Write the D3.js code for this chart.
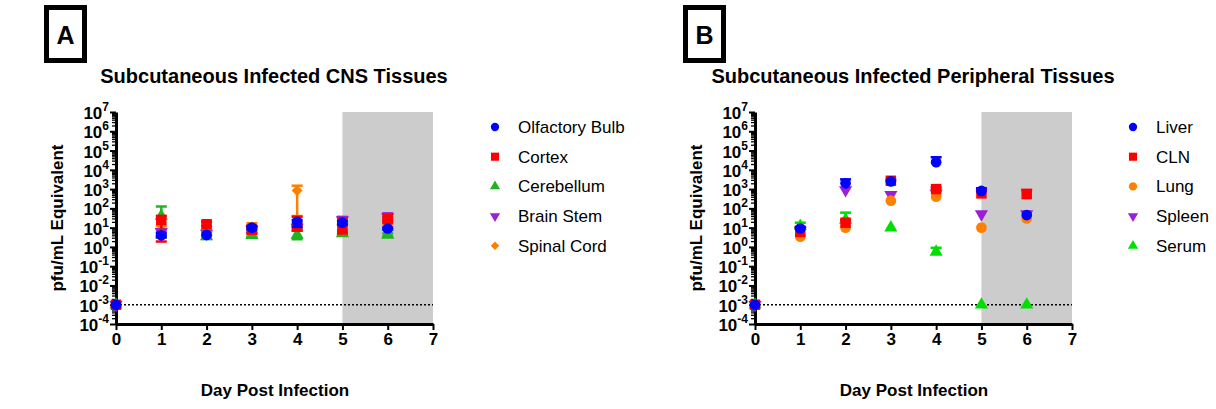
<!DOCTYPE html>
<html>
<head>
<meta charset="utf-8">
<script src="https://cdn.jsdelivr.net/npm/d3@7"></script>
<style>
  body { margin: 0; background: #fff; }
  text { font-family: Arial, "Liberation Sans", sans-serif; }
</style>
</head>
<body>
<script>
// days on the x axis
const days = [0, 1, 2, 3, 4, 5, 6];
const dayTicks = [0, 1, 2, 3, 4, 5, 6, 7];
const decadeTicks = [-4, -3, -2, -1, 0, 1, 2, 3, 4, 5, 6, 7];
const detectionLimit = 0.001;

// Panel A : CNS tissues (mean, upper error, lower error)
const cnsNames = ["Olfactory Bulb", "Cortex", "Cerebellum", "Brain Stem", "Spinal Cord"];
const olfactoryMean = [0.001, 4, 4.2, 10, 20, 18, 9];
const olfactoryHi = [null, 5.5, null, 12, 25, 22, 10];
const olfactoryLo = [null, 3.2, null, 8, 11, 14, 8];
const cortexMean = [0.001, 25, 15, 8, 12, 9, 28];
const cortexHi = [null, 40, 20, 12, 37, 30, 35];
const cortexLo = [null, 1.9, 12, 5, 7, 5, 20];
const cerebellumMean = [0.001, 40, 3.5, 4, 4.2, 5, 4.2];
const cerebellumHi = [null, 125, 6, 5, 10, 7, 5];
const cerebellumLo = [null, 3, 2.6, 3.4, 2.5, 4.5, 3.5];
const brainStemMean = [0.001, 6, 5, 8, 10, 25, 35];
const brainStemHi = [null, 8, 6, 10, 15, 35, 55];
const brainStemLo = [null, 4, 4, 6, 7, 15, 25];
const spinalMean = [0.001, 8, 6, 9, 850, 10, 20];
const spinalHi = [null, 12, 8, 17, 1500, 37, 25];
const spinalLo = [null, 5, 4, 3.2, 40, 4, 15];

// Panel B : peripheral tissues
const periNames = ["Liver", "CLN", "Lung", "Spleen", "Serum"];
const liverMean = [0.001, 9, 2000, 2500, 25000, 800, 45];
const liverHi = [null, 11, 3200, null, 45000, 1100, null];
const liverLo = [null, null, null, null, null, null, null];
const clnMean = [0.001, 6, 18, 2700, 1000, 600, 550];
const clnHi = [null, 10, 25, 3000, 1200, 800, 900];
const clnLo = [null, null, null, null, null, null, null];
const lungMean = [0.001, 3.4, 10, 250, 400, 10, 30];
const lungHi = [null, null, null, null, null, null, null];
const lungLo = [null, null, null, null, null, null, null];
const spleenMean = [0.001, 7, 900, 500, 600, 50, 50];
const spleenHi = [null, null, null, null, null, null, null];
const spleenLo = [null, null, null, null, null, null, null];
const serumMean = [0.001, 12, 25, 10, 0.55, 0.001, 0.001];
const serumHi = [null, 18, 60, null, 0.9, null, null];
const serumLo = [null, null, null, null, null, null, null];

const svg = d3.select("body").append("svg").attr("width", 1216).attr("height", 409);

const symbolOf = {
  circle: d3.symbolCircle, square: d3.symbolSquare, triUp: d3.symbolTriangle,
  triDown: d3.symbolTriangle, diamond: d3.symbolSquare
};
const rotOf = { triDown: " rotate(180)", diamond: " rotate(45)" };

const drawPanel = (cfg) => {
  const g = svg.append("g").attr("transform", `translate(${cfg.dx},0)`);
  const x = d3.scaleLinear().domain([0, 7]).range([116, 433]);
  const y = d3.scaleLog().domain([1e-4, 1e7]).range([324, 112]);

  // panel letter box
  g.append("rect").attr("x", 46.5).attr("y", 7.5).attr("width", 38).attr("height", 53)
    .attr("fill", "none").attr("stroke", "#000").attr("stroke-width", 5);
  g.append("text").attr("x", 65.5).attr("y", 44).attr("text-anchor", "middle")
    .attr("font-size", 25).attr("font-weight", "bold").text(cfg.letter);

  // title
  g.append("text").attr("x", 274).attr("y", 83).attr("text-anchor", "middle")
    .attr("font-size", 20).attr("font-weight", "bold").text(cfg.title);

  // shaded window day 5 - 7
  g.append("rect").attr("x", x(5)).attr("y", y(1e7))
    .attr("width", x(7) - x(5)).attr("height", y(1e-4) - y(1e7)).attr("fill", "#cccccc");

  // limit of detection
  g.append("line").attr("x1", x(0)).attr("x2", x(7))
    .attr("y1", y(detectionLimit)).attr("y2", y(detectionLimit))
    .attr("stroke", "#000").attr("stroke-width", 1.6).attr("stroke-dasharray", "2,2");

  // y axis: minor ticks
  const minor = [];
  decadeTicks.slice(0, -1).forEach((e) => {
    for (let m = 2; m <= 9; m++) minor.push(m * Math.pow(10, e));
  });
  g.append("g").attr("transform", "translate(116,0)")
    .call(d3.axisLeft(y).tickValues(minor).tickSize(4).tickFormat(""))
    .call((a) => a.select(".domain").remove())
    .selectAll("line").attr("stroke-width", 1.3);

  const yAxis = g.append("g").attr("transform", "translate(116,0)")
    .call(d3.axisLeft(y).tickValues(decadeTicks.map((e) => Math.pow(10, e)))
      .tickSize(6).tickSizeOuter(0).tickFormat(""));
  yAxis.select(".domain").attr("stroke-width", 3);
  yAxis.selectAll("line").attr("stroke-width", 2);
  decadeTicks.forEach((e) => {
    const t = g.append("text").attr("x", 109).attr("y", y(Math.pow(10, e)) + 7)
      .attr("text-anchor", "end").attr("font-weight", "bold").attr("font-size", 17);
    t.append("tspan").text("10");
    t.append("tspan").attr("font-size", 12).attr("dy", -8).text(String(e));
  });

  // x axis
  const xAxis = g.append("g").attr("transform", "translate(0,324)")
    .call(d3.axisBottom(x).tickValues(dayTicks).tickFormat(d3.format("d"))
      .tickSize(6).tickSizeOuter(0).tickPadding(3));
  xAxis.select(".domain").attr("stroke-width", 3);
  xAxis.selectAll("line").attr("stroke-width", 2);
  xAxis.selectAll("text").attr("font-size", 17).attr("font-weight", "bold")
    .attr("font-family", "Arial, 'Liberation Sans', sans-serif").attr("fill", "#000");

  // axis titles
  g.append("text").attr("x", 275).attr("y", 396).attr("text-anchor", "middle")
    .attr("font-size", 17).attr("font-weight", "bold").text("Day Post Infection");
  g.append("text").attr("transform", "translate(63,218) rotate(-90)").attr("text-anchor", "middle")
    .attr("font-size", 17).attr("font-weight", "bold").text("pfu/mL Equivalent");

  // series, drawn last-to-first so the first series sits on top
  cfg.series.slice().reverse().forEach((s) => {
    const sg = g.append("g");
    days.forEach((d, i) => {
      const m = s.mean[i];
      [s.hi[i], s.lo[i]].forEach((v) => {
        if (v == null) return;
        sg.append("line").attr("x1", x(d)).attr("x2", x(d)).attr("y1", y(m)).attr("y2", y(v))
          .attr("stroke", s.color).attr("stroke-width", 2.5);
        sg.append("line").attr("x1", x(d) - 5.5).attr("x2", x(d) + 5.5).attr("y1", y(v)).attr("y2", y(v))
          .attr("stroke", s.color).attr("stroke-width", 2.5);
      });
    });
    sg.selectAll("path.pt").data(days).enter().append("path").attr("class", "pt")
      .attr("d", d3.symbol().type(symbolOf[s.shape]).size(s.size))
      .attr("transform", (d, i) => `translate(${x(d)},${y(s.mean[i])})${rotOf[s.shape] || ""}`)
      .attr("fill", s.color);
  });

  // legend
  cfg.series.forEach((s, i) => {
    const ly = 127 + i * 29.7;
    g.append("path").attr("d", d3.symbol().type(symbolOf[s.shape]).size(s.size * 0.6))
      .attr("transform", `translate(${cfg.legendX},${ly})${rotOf[s.shape] || ""}`)
      .attr("fill", s.color);
    g.append("text").attr("x", cfg.legendX + 23).attr("y", ly + 6).attr("font-size", 17).text(s.name);
  });
};

drawPanel({
  dx: 0, letter: "A", title: "Subcutaneous Infected CNS Tissues", legendX: 495,
  series: [
    { name: cnsNames[0], shape: "circle", color: "#0000ff", size: 90, mean: olfactoryMean, hi: olfactoryHi, lo: olfactoryLo },
    { name: cnsNames[1], shape: "square", color: "#ff0000", size: 110, mean: cortexMean, hi: cortexHi, lo: cortexLo },
    { name: cnsNames[2], shape: "triUp", color: "#1fb51f", size: 75, mean: cerebellumMean, hi: cerebellumHi, lo: cerebellumLo },
    { name: cnsNames[3], shape: "triDown", color: "#9b1fd6", size: 75, mean: brainStemMean, hi: brainStemHi, lo: brainStemLo },
    { name: cnsNames[4], shape: "diamond", color: "#ff8000", size: 60, mean: spinalMean, hi: spinalHi, lo: spinalLo }
  ]
});

drawPanel({
  dx: 639, letter: "B", title: "Subcutaneous Infected Peripheral Tissues", legendX: 494,
  series: [
    { name: periNames[0], shape: "circle", color: "#0000ff", size: 90, mean: liverMean, hi: liverHi, lo: liverLo },
    { name: periNames[1], shape: "square", color: "#ff0000", size: 110, mean: clnMean, hi: clnHi, lo: clnLo },
    { name: periNames[2], shape: "circle", color: "#ff8000", size: 90, mean: lungMean, hi: lungHi, lo: lungLo },
    { name: periNames[3], shape: "triDown", color: "#9b1fd6", size: 75, mean: spleenMean, hi: spleenHi, lo: spleenLo },
    { name: periNames[4], shape: "triUp", color: "#00e000", size: 75, mean: serumMean, hi: serumHi, lo: serumLo }
  ]
});
</script>
</body>
</html>
